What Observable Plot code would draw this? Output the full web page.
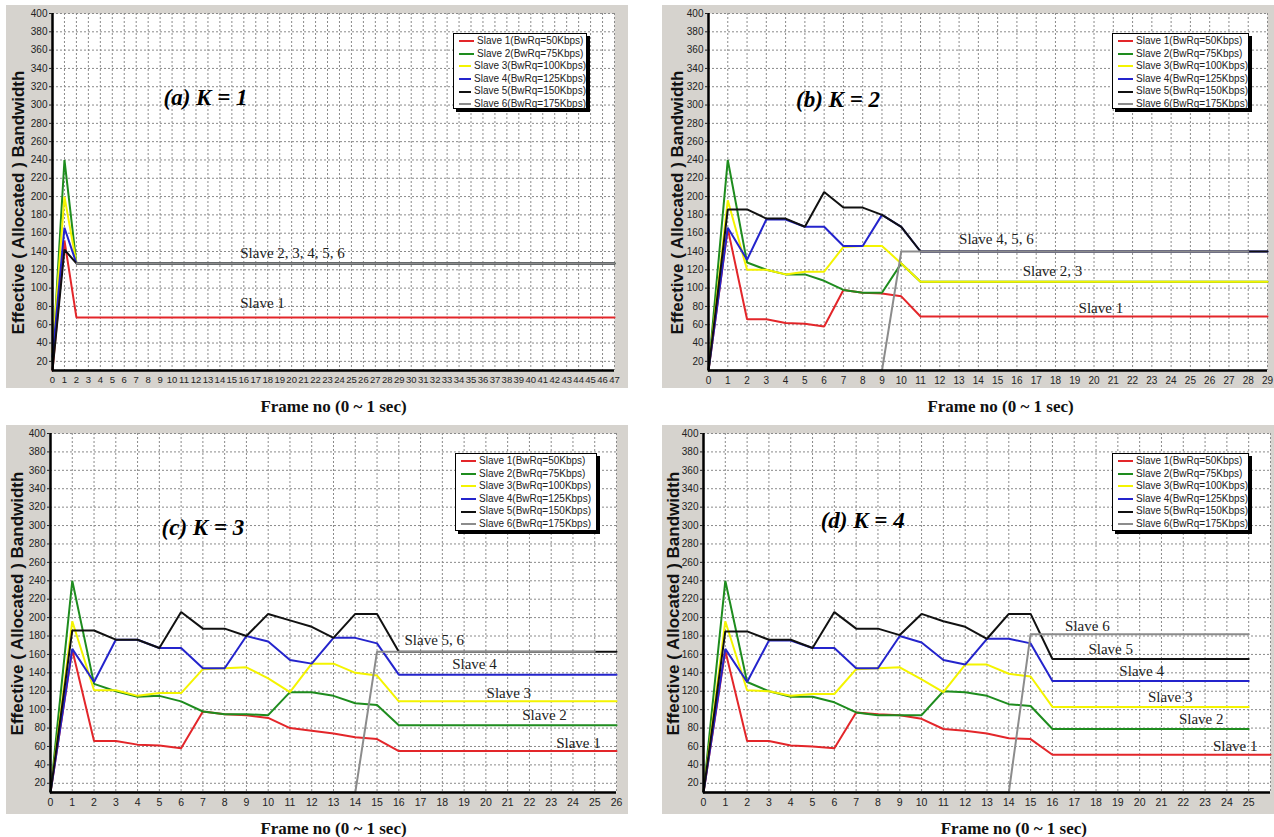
<!DOCTYPE html>
<html><head><meta charset="utf-8">
<script src="https://cdn.jsdelivr.net/npm/d3@7"></script>
<script src="https://cdn.jsdelivr.net/npm/@observablehq/plot@0.6"></script>
<style>
body{margin:0;background:#fff;}
#root{position:relative;width:1274px;height:837px;overflow:hidden;font-family:"Liberation Sans",Arial,sans-serif;}
.bg{position:absolute;background:#d6d3ce;}
.pl{position:absolute;}
.pl svg{overflow:visible;}
.legend{position:absolute;background:#fff;border:1px solid #000;box-shadow:3px 3px 0 #000;box-sizing:border-box;padding:1px 0 0 5px;font-size:10px;color:#222;}
.legend .row{height:12.6px;line-height:12.6px;white-space:nowrap;display:flex;align-items:center;}
.legend .sw{display:inline-block;width:15px;height:2px;margin-right:3px;}
</style></head><body><div id="root"></div><script>
// ---------- data ----------
const slaveNames = ["Slave 1(BwRq=50Kbps)","Slave 2(BwRq=75Kbps)","Slave 3(BwRq=100Kbps)","Slave 4(BwRq=125Kbps)","Slave 5(BwRq=150Kbps)","Slave 6(BwRq=175Kbps)"];
const yTicks = [20,40,60,80,100,120,140,160,180,200,220,240,260,280,300,320,340,360,380,400];
const xTicksA = [0,1,2,3,4,5,6,7,8,9,10,11,12,13,14,15,16,17,18,19,20,21,22,23,24,25,26,27,28,29,30,31,32,33,34,35,36,37,38,39,40,41,42,43,44,45,46,47];
const xTicksB = [0,1,2,3,4,5,6,7,8,9,10,11,12,13,14,15,16,17,18,19,20,21,22,23,24,25,26,27,28,29];
const xTicksC = [0,1,2,3,4,5,6,7,8,9,10,11,12,13,14,15,16,17,18,19,20,21,22,23,24,25,26];
const xTicksD = [0,1,2,3,4,5,6,7,8,9,10,11,12,13,14,15,16,17,18,19,20,21,22,23,24,25];

// (a) K = 1
const aRedX = [0,1,2,47],    aRedY = [10,152,68,68];
const aGreenX = [0,1,2,47],  aGreenY = [20,240,127,127];
const aYellowX = [0,1,2,47], aYellowY = [30,200,127,127];
const aBlueX = [0,1,2,47],   aBlueY = [25,166,127,127];
const aBlackX = [0,1,2,47],  aBlackY = [10,142,127,127];
const aGrayX = [2,47],       aGrayY = [127,127];
const aLabels = ["Slave 2, 3, 4, 5, 6","Slave 1"], aLabelX = [15.7,15.7], aLabelY = [138,83];

// (b) K = 2
const bX = [0,1,2,3,4,5,6,7,8,9,10,11,29];
const bRedY    = [10,165,66,66,62,61,58,98,95,94,91,69,69];
const bGreenY  = [10,240,128,120,115,115,108,98,95,95,127,107,107];
const bYellowY = [10,196,120,120,115,118,118,145,146,146,127,107,107];
const bBlueY   = [10,166,131,175,175,167,167,146,146,180,167,140,140];
const bBlackY  = [10,186,186,176,176,167,205,188,188,180,167,140,140];
const bGrayX = [0,9,10,28], bGrayY = [10,10,140,140];
const bLabels = ["Slave 4, 5, 6","Slave 2, 3","Slave 1"], bLabelX = [13.0,16.3,19.2], bLabelY = [153,118,78];

// (c) K = 3
const cX = [0,1,2,3,4,5,6,7,8,9,10,11,12,13,14,15,16,26];
const cRedY    = [10,165,66,66,62,61,58,98,95,94,91,80,77,74,70,68,55,55];
const cGreenY  = [10,240,128,120,114,115,109,98,95,95,94,119,119,115,107,105,83,83];
const cYellowY = [10,196,121,121,115,118,118,144,145,146,134,119,150,150,140,137,109,109];
const cBlueY   = [10,166,130,176,176,167,167,145,145,180,174,154,150,178,178,172,138,138];
const cBlackY  = [10,186,186,176,176,167,206,188,188,180,204,197,190,178,204,204,163,163];
const cGrayX = [0,14,15,25], cGrayY = [10,10,163,163];
const cLabels = ["Slave 5, 6","Slave 4","Slave 3","Slave 2","Slave 1"], cLabelX = [16.26,18.45,20.03,21.67,23.23], cLabelY = [175,149.5,118,93.6,63.6];

// (d) K = 4
const dRedX = [0,1,2,3,4,5,6,7,8,9,10,11,12,13,14,15,16,26];
const dX = [0,1,2,3,4,5,6,7,8,9,10,11,12,13,14,15,16,25];
const dRedY    = [10,164,66,66,61,60,58,97,95,94,90,79,77,74,69,68,51,51];
const dGreenY  = [10,240,130,120,114,114,108,97,94,94,94,120,119,115,106,104,79,79];
const dYellowY = [10,196,121,120,115,117,117,144,145,146,133,119,149,149,139,136,103,103];
const dBlueY   = [10,166,130,175,175,167,167,145,145,180,173,154,149,177,177,172,131,131];
const dBlackY  = [10,185,185,176,176,167,206,188,188,181,204,196,190,177,204,204,155,155];
const dGrayX = [0,14,15,25], dGrayY = [10,10,182,182];
const dLabels = ["Slave 6","Slave 5","Slave 4","Slave 3","Slave 2","Slave 1"], dLabelX = [16.58,17.65,19.07,20.38,21.8,23.36], dLabelY = [190.5,165.3,142,113.3,90,60];

// ---------- styles ----------
const slaveColors = ["#e3262a","#1e8c1e","#f4f400","#2424cc","#111111","#8c8c8c"];

const panels = [
  {left:0, top:0, width:660, height:420, mL:52, mR:46, mT:13, mB:50, bg:[6,5,622,383],
   xDomain:[0,47], xTicks:xTicksA, xGrid:xTicksA, tickFont:9.5,
   series:[[aRedX,aRedY],[aGreenX,aGreenY],[aYellowX,aYellowY],[aBlueX,aBlueY],[aBlackX,aBlackY],[aGrayX,aGrayY]],
   labels:[aLabels,aLabelX,aLabelY], title:"(a) K = 1", titleX:12.8, titleY:308, xLabelX:23.5, yDx:-34, yDy:10.5,
   legend:[453,33,134,76]},
  {left:660, top:0, width:614, height:420, mL:48, mR:7, mT:13, mB:50, bg:[662,5,612,383],
   xDomain:[0,29], xTicks:xTicksB, xGrid:xTicksB, tickFont:10,
   series:[[bX,bRedY],[bX,bGreenY],[bX,bYellowY],[bX,bBlueY],[bX,bBlackY],[bGrayX,bGrayY]],
   labels:[bLabels,bLabelX,bLabelY], title:"(b) K = 2", titleX:6.72, titleY:306, xLabelX:15.15, yDx:-31, yDy:10.5,
   legend:[1112,33,137,76]},
  {left:0, top:420, width:660, height:417, mL:50, mR:44, mT:13, mB:45, bg:[6,425,622,389],
   xDomain:[0,26], xTicks:xTicksC, xGrid:xTicksC, tickFont:10.5,
   series:[[cX,cRedY],[cX,cGreenY],[cX,cYellowY],[cX,cBlueY],[cX,cBlackY],[cGrayX,cGrayY]],
   labels:[cLabels,cLabelX,cLabelY], title:"(c) K = 3", titleX:7.0, titleY:298, xLabelX:13.0, yDx:-33, yDy:-9.5,
   legend:[455,453,142,78]},
  {left:660, top:420, width:614, height:417, mL:43, mR:4, mT:13, mB:45, bg:[662,425,612,389],
   xDomain:[0,26], xTicks:xTicksD, xGrid:xTicksC, tickFont:10.5,
   series:[[dRedX,dRedY],[dX,dGreenY],[dX,dYellowY],[dX,dBlueY],[dX,dBlackY],[dGrayX,dGrayY]],
   labels:[dLabels,dLabelX,dLabelY], title:"(d) K = 4", titleX:7.3, titleY:305.5, xLabelX:14.23, yDx:-30, yDy:-9.5,
   legend:[1112,453,137,78]}
];

const root = document.getElementById("root");

function buildPanel(p){
  const bg = document.createElement("div");
  bg.className = "bg";
  Object.assign(bg.style,{left:p.bg[0]+"px",top:p.bg[1]+"px",width:p.bg[2]+"px",height:p.bg[3]+"px"});
  root.appendChild(bg);

  const grid = {stroke:"#8a8a8a", strokeDasharray:"2,2", strokeWidth:1};
  const marks = [
    Plot.frame({fill:"white", stroke:null}),
    Plot.ruleY(yTicks, {y:d=>d, ...grid}),
    Plot.ruleX(p.xGrid, {x:d=>d, ...grid}),
    ...p.series.map(([X,Y],k)=>Plot.line(X.map((xv,i)=>({x:xv,y:Y[i]})), {x:"x", y:"y", stroke:slaveColors[k], strokeWidth:2, strokeLinejoin:"miter"})),
    Plot.ruleX([0], {stroke:"#000", strokeWidth:2.5}),
    Plot.ruleY([10], {stroke:"#000", strokeWidth:2.5}),
    Plot.axisY({ticks:yTicks, tickSize:3, tickPadding:2, fontSize:10, label:null, color:"#222"}),
    Plot.axisX({ticks:p.xTicks, tickSize:0, tickPadding:6, fontSize:p.tickFont, label:null, color:"#222"}),
    Plot.text(p.labels[0], {x:p.labels[1], y:p.labels[2], text:d=>d, textAnchor:"start", fontFamily:"Liberation Serif, Times New Roman, serif", fontSize:15, fill:"#222"}),
    Plot.text([p.title], {x:[p.titleX], y:[p.titleY], text:d=>d, fontFamily:"Liberation Serif, Times New Roman, serif", fontWeight:"bold", fontStyle:"italic", fontSize:23, fill:"#000"}),
    Plot.text(["Effective ( Allocated ) Bandwidth"], {frameAnchor:"left", textAnchor:"middle", lineAnchor:"middle", rotate:-90, dx:p.yDx, dy:p.yDy, text:d=>d, fontFamily:"Liberation Sans, Arial, sans-serif", fontWeight:"bold", fontSize:17, fill:"#111"}),
    Plot.text(["Frame no (0 ~ 1 sec)"], {x:[p.xLabelX], frameAnchor:"bottom", textAnchor:"middle", lineAnchor:"middle", dy:36, text:d=>d, fontFamily:"Liberation Serif, Times New Roman, serif", fontWeight:"bold", fontSize:17, fill:"#111"})
  ];
  const chart = Plot.plot({
    width:p.width, height:p.height,
    marginLeft:p.mL, marginRight:p.mR, marginTop:p.mT, marginBottom:p.mB,
    x:{domain:p.xDomain}, y:{domain:[10,400]},
    style:{background:"transparent", fontFamily:"Liberation Sans, Arial, sans-serif"},
    marks
  });
  const wrap = document.createElement("div");
  wrap.className = "pl";
  Object.assign(wrap.style,{left:p.left+"px",top:p.top+"px"});
  wrap.appendChild(chart);
  root.appendChild(wrap);

  const lg = document.createElement("div");
  lg.className = "legend";
  Object.assign(lg.style,{left:p.legend[0]+"px",top:p.legend[1]+"px",width:p.legend[2]+"px",height:p.legend[3]+"px"});
  slaveNames.forEach((n,k)=>{
    const r = document.createElement("div"); r.className="row";
    const sw = document.createElement("span"); sw.className="sw"; sw.style.background=slaveColors[k];
    const t = document.createElement("span"); t.textContent=n;
    r.appendChild(sw); r.appendChild(t); lg.appendChild(r);
  });
  root.appendChild(lg);
}
panels.forEach(buildPanel);
</script></body></html>
